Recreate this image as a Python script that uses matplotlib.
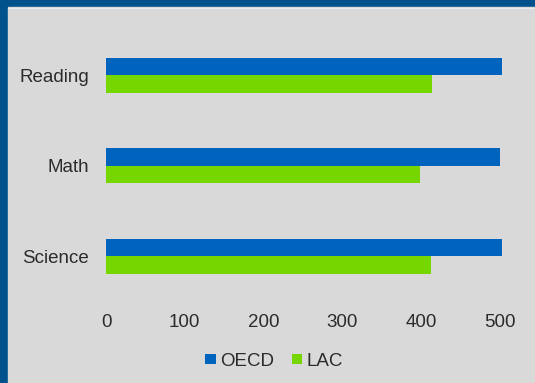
import matplotlib
matplotlib.use("Agg")
import matplotlib.pyplot as plt
from matplotlib.patches import Rectangle
from matplotlib.lines import Line2D
import numpy as np

# PISA-style scores
subjects = ["Science", "Math", "Reading"]
oecd = [502, 500, 502]
lac = [413, 398, 414]
ticks = [0, 100, 200, 300, 400, 500]

W, H = 535, 383
plt.rcParams['font.family'] = ['Liberation Sans', 'DejaVu Sans']

fig = plt.figure(figsize=(W / 100, H / 100), dpi=100)
fig.patch.set_facecolor('#00528C')

# light gray panel inside the blue frame
fig.patches.append(Rectangle((8 / W, 0), 1 - 8 / W, (H - 7) / H,
                             transform=fig.transFigure, color='#D9D9D9', zorder=-2))
fig.lines.append(Line2D([8 / W, 1], [(H - 7.5) / H] * 2, transform=fig.transFigure,
                        color='#E6ECF2', lw=0.8, zorder=-1))

left, right, top, bottom = 106, 520, 30, 301.5
ax = fig.add_axes([left / W, (H - bottom) / H, (right - left) / W, (bottom - top) / H])
ax.set_facecolor('none')

y = np.arange(len(subjects))
h = 0.195
ax.barh(y + h / 2, oecd, height=h, color='#0063BE', label='OECD')
ax.barh(y - h / 2, lac, height=h, color='#76D600', label='LAC')

ax.set_xlim(0, (right - left) / 0.788)
ax.set_ylim(-0.5, 2.5)
ax.set_xticks(ticks)
ax.set_yticks(y)
ax.set_yticklabels(subjects)
for s in ax.spines.values():
    s.set_visible(False)
ax.tick_params(axis='both', length=0, labelsize=13.5, labelcolor='#2B2B2B')
ax.tick_params(axis='y', pad=12)
ax.tick_params(axis='x', pad=9)

fig.legend(loc='center', bbox_to_anchor=(274 / W, 1 - 361 / H), ncol=2, frameon=False,
           fontsize=13.5, handlelength=0.56, handleheight=0.4, handletextpad=0.22,
           columnspacing=0.95, labelcolor='#2B2B2B')

fig.savefig('out.png', dpi=100, facecolor=fig.get_facecolor())
